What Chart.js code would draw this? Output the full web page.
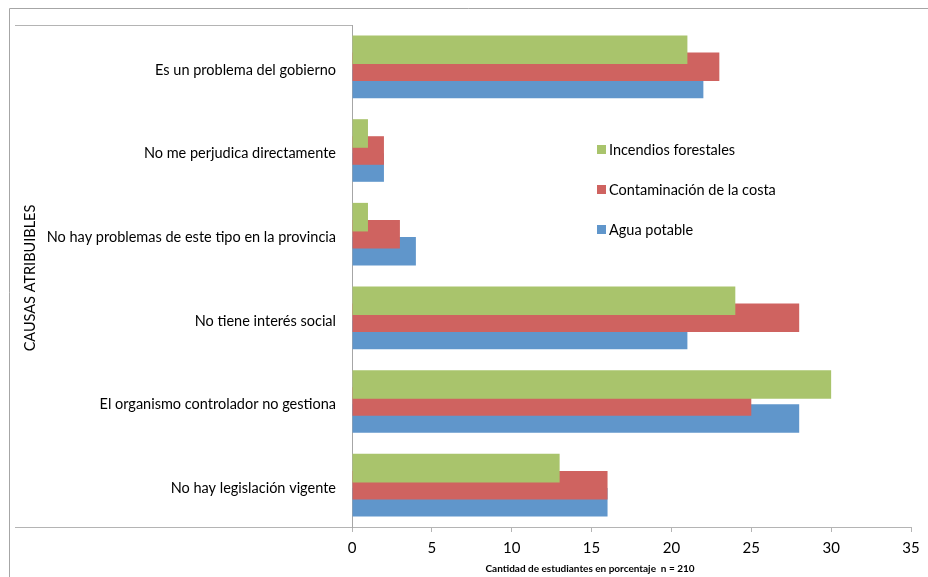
<!DOCTYPE html>
<html>
<head>
<meta charset="utf-8">
<script src="https://cdn.jsdelivr.net/npm/chart.js@4.4.1/dist/chart.umd.min.js"></script>
<style>
  body { margin: 0; background: #fff; }
  canvas { display: block; }
</style>
</head>
<body>
<canvas id="chart" width="928" height="577"></canvas>
<script>
const causas = [
    'Es un problema del gobierno',
    'No me perjudica directamente',
    'No hay problemas de este tipo en la provincia',
    'No tiene interés social',
    'El organismo controlador no gestiona',
    'No hay legislación vigente'
];
const incendios = [21, 1, 1, 24, 30, 13];
const contaminacion = [23, 2, 3, 28, 25, 16];
const agua = [22, 2, 4, 21, 28, 16];
const xTicks = [0, 5, 10, 15, 20, 25, 30, 35];

const FONT = 'Lato, "Open Sans", sans-serif';

// frame lines, axis titles and the legend are drawn by hand
const extras = {
    id: 'extras',
    afterDraw(chart) {
        const ctx = chart.ctx;
        const area = chart.chartArea;
        ctx.save();

        ctx.strokeStyle = '#a6a6a6';
        ctx.lineWidth = 1;
        ctx.beginPath();
        ctx.moveTo(9.5, 577);
        ctx.lineTo(9.5, 8.5);
        ctx.lineTo(928, 8.5);
        ctx.stroke();

        ctx.strokeStyle = '#b4b4b4';
        ctx.beginPath();
        ctx.moveTo(15, area.top + 0.5);
        ctx.lineTo(area.left, area.top + 0.5);
        ctx.moveTo(15, area.bottom + 0.5);
        ctx.lineTo(area.left, area.bottom + 0.5);
        ctx.stroke();

        ctx.fillStyle = '#000';
        ctx.font = 'bold 10px ' + FONT;
        ctx.textAlign = 'center';
        ctx.textBaseline = 'middle';
        ctx.fillText('Cantidad de estudiantes en porcentaje  n = 210', 590, 569);

        ctx.save();
        ctx.translate(30, (area.top + area.bottom) / 2 + 2);
        ctx.rotate(-Math.PI / 2);
        ctx.font = '14.5px ' + FONT;
        ctx.fillText('CAUSAS ATRIBUIBLES', 0, 0);
        ctx.restore();

        ctx.textAlign = 'left';
        ctx.font = '14.5px ' + FONT;
        chart.data.datasets.forEach((ds, i) => {
            const y = 150 + i * 40;
            ctx.fillStyle = ds.backgroundColor;
            ctx.fillRect(597, y - 5, 9, 9);
            ctx.fillStyle = '#000';
            ctx.fillText(ds.label, 609, y);
        });
        ctx.restore();
    }
};

new Chart(document.getElementById('chart'), {
    type: 'bar',
    data: {
        labels: causas,
        datasets: [
            { label: 'Incendios forestales', data: incendios, backgroundColor: '#a9c46c' },
            { label: 'Contaminación de la costa', data: contaminacion, backgroundColor: '#cf6360' },
            { label: 'Agua potable', data: agua, backgroundColor: '#6096cb' }
        ]
    },
    options: {
        indexAxis: 'y',
        responsive: false,
        animation: false,
        devicePixelRatio: 1,
        categoryPercentage: 0.61,
        barPercentage: 1.68,
        layout: { padding: { top: 25, right: 17, left: 0, bottom: 0 } },
        plugins: {
            legend: { display: false },
            tooltip: { enabled: false }
        },
        scales: {
            x: {
                min: 0,
                max: 35,
                afterBuildTicks: (scale) => { scale.ticks = xTicks.map(v => ({ value: v })); },
                afterFit: (scale) => { scale.height = 50; },
                grid: { drawOnChartArea: false, drawTicks: true, tickLength: 5, color: '#b4b4b4' },
                border: { display: true, color: '#b4b4b4' },
                ticks: { color: '#000', padding: 7, font: { family: FONT, size: 15 } }
            },
            y: {
                afterFit: (scale) => { scale.width = 352; },
                grid: { display: false },
                border: { display: true, color: '#a6a6a6' },
                ticks: { color: '#000', padding: 8, labelOffset: 3, font: { family: FONT, size: 14.5 } }
            }
        }
    },
    plugins: [extras]
});
</script>
</body>
</html>
